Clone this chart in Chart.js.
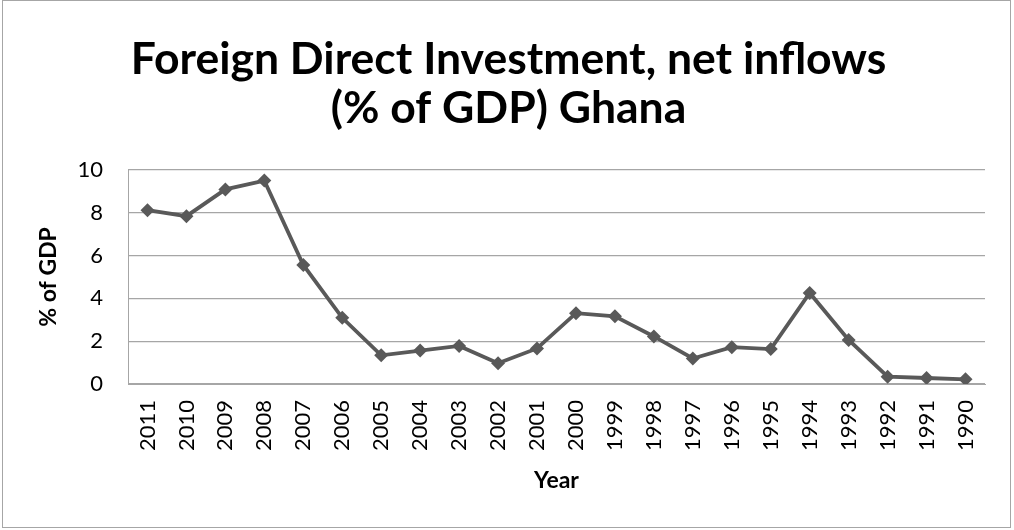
<!DOCTYPE html>
<html>
<head>
<meta charset="utf-8">
<script src="https://cdn.jsdelivr.net/npm/chart.js@4.4.1/dist/chart.umd.min.js"></script>
<style>
    html, body { margin: 0; padding: 0; background: #fff; }
    #wrap { width: 1014px; height: 530px; position: relative; }
</style>
</head>
<body>
<div id="wrap"><canvas id="fdiChart"></canvas></div>
<script>
// data
const years = ['2011', '2010', '2009', '2008', '2007', '2006', '2005', '2004', '2003', '2002', '2001',
               '2000', '1999', '1998', '1997', '1996', '1995', '1994', '1993', '1992', '1991', '1990'];
const fdiPct = [8.12, 7.84, 9.09, 9.5, 5.56, 3.09, 1.34, 1.56, 1.78, 0.97, 1.66,
                3.31, 3.16, 2.22, 1.19, 1.72, 1.63, 4.25, 2.06, 0.34, 0.28, 0.22];
const yTicks = [0, 2, 4, 6, 8, 10];

document.addEventListener('DOMContentLoaded', function() {
    const ctx = document.getElementById('fdiChart').getContext('2d');

    // outer frame of the chart
    const framePlugin = {
        id: 'frame',
        afterDraw(chart) {
            const c = chart.ctx;
            c.save();
            c.strokeStyle = '#a6a6a6';
            c.lineWidth = 1;
            c.strokeRect(2.5, 0.5, 1008, 527);
            c.restore();
        }
    };

    new Chart(ctx, {
        type: 'line',
        data: {
            labels: years,
            datasets: [{
                label: 'FDI',
                data: fdiPct,
                borderColor: '#595959',
                backgroundColor: '#595959',
                borderWidth: 3.8,
                pointStyle: 'rectRot',
                pointRadius: 7,
                pointBorderWidth: 0,
                tension: 0
            }]
        },
        options: {
            responsive: true,
            maintainAspectRatio: false,
            animation: false,
            layout: { padding: { left: 32, right: 29, top: 0, bottom: 36 } },
            plugins: {
                legend: { display: false },
                tooltip: { enabled: false },
                title: {
                    display: true,
                    text: ['Foreign Direct Investment, net inflows', '(% of GDP) Ghana'],
                    color: '#000',
                    font: { family: 'Lato', size: 44.5, weight: 'bold', lineHeight: 1.1 },
                    padding: { top: 35, bottom: 37 }
                }
            },
            scales: {
                x: {
                    offset: true,
                    grid: { display: false, drawTicks: false },
                    border: { color: '#a6a6a6' },
                    ticks: {
                        color: '#000',
                        font: { family: 'Lato', size: 22 },
                        maxRotation: 90,
                        minRotation: 90,
                        padding: 16,
                        autoSkip: false
                    },
                    title: {
                        display: true,
                        text: 'Year',
                        color: '#000',
                        font: { family: 'Lato', size: 23, weight: 'bold' },
                        padding: { top: 0, bottom: 0 }
                    },
                    afterFit: s => { s.height = 110; }
                },
                y: {
                    min: 0,
                    max: 10,
                    afterBuildTicks: s => { s.ticks = yTicks.map(v => ({ value: v })); },
                    grid: { color: '#a6a6a6', lineWidth: 1.2, drawTicks: false },
                    border: { color: '#a6a6a6' },
                    ticks: {
                        color: '#000',
                        font: { family: 'Lato', size: 22 },
                        padding: 25
                    },
                    title: {
                        display: true,
                        text: '% of GDP',
                        color: '#000',
                        font: { family: 'Lato', size: 23, weight: 'bold' },
                        padding: { top: 3, bottom: 0 }
                    },
                    afterFit: s => { s.width = 96; }
                }
            }
        },
        plugins: [framePlugin]
    });
});
</script>
</body>
</html>
